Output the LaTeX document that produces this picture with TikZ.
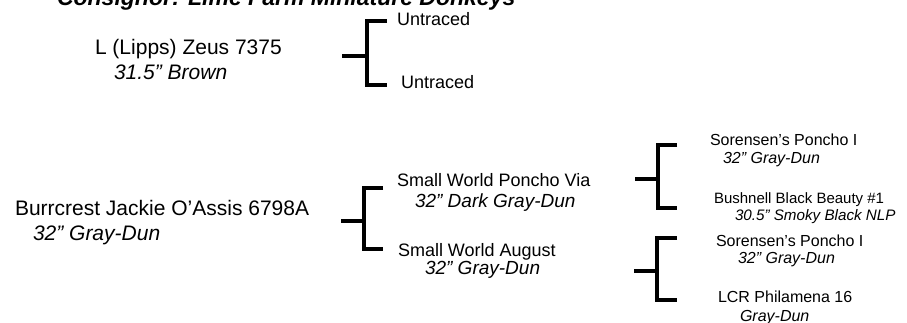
\documentclass[tikz,border=0pt]{standalone}
\usepackage{fontspec}
\setmainfont{Liberation Sans}
\begin{document}
\begin{tikzpicture}[x=1pt,y=-1pt,
  txt/.style={anchor=base west, inner sep=0pt, outer sep=0pt},
  ttl/.style={txt, font=\fontsize{23}{24}\selectfont\bfseries\itshape},
  big/.style={txt, font=\fontsize{21}{22}\selectfont},
  bigi/.style={txt, font=\fontsize{21}{22}\selectfont\itshape},
  mid/.style={txt, font=\fontsize{18}{19}\selectfont},
  midi/.style={txt, font=\fontsize{19}{20}\selectfont\itshape},
  sml/.style={txt, font=\fontsize{16}{17}\selectfont},
  smli/.style={txt, font=\fontsize{16}{17}\selectfont\itshape},
  xsml/.style={txt, font=\fontsize{15}{16}\selectfont},
  xsmli/.style={txt, font=\fontsize{15.2}{16}\selectfont\itshape},
  br/.style={line width=4pt, line cap=butt, line join=miter}]
\clip (0,0) rectangle (907,322);
\fill[white] (0,0) rectangle (907,322);

% title (cut off at the top)
\node[ttl] (title) at (57,5) {Consignor: Lime Farm Miniature Donkeys};

% sire line
\node[big]  (zeus)  at (95,54) {L (Lipps) Zeus 7375};
\node[bigi] (zeusc) at (114,79) {31.5” Brown};
\node[mid]  (u1)    at (397,25) {Untraced};
\node[mid]  (u2)    at (401,88) {Untraced};

% dam line
\node[big]  (burr)  at (15,215) {Burrcrest Jackie O’Assis 6798A};
\node[bigi] (burrc) at (33,240) {32” Gray-Dun};
\node[mid]  (swp)   at (397,186) {Small World Poncho Via};
\node[midi] (swpc)  at (415,207) {32” Dark Gray-Dun};
\node[mid]  (swa)   at (398,256.5) {Small World August};
\node[midi] (swac)  at (425,274) {32” Gray-Dun};

\node[sml]  (sp1)   at (710,145) {Sorensen’s Poncho I};
\node[smli] (sp1c)  at (723,163) {32” Gray-Dun};
\node[xsml] (bbb)   at (714,203) {Bushnell Black Beauty \#1};
\node[xsmli](bbbc)  at (735,220) {30.5” Smoky Black NLP};
\node[sml]  (sp2)   at (716,246.5) {Sorensen’s Poncho I};
\node[smli] (sp2c)  at (738,263) {32” Gray-Dun};
\node[sml]  (lcr)   at (718,302.5) {LCR Philamena 16};
\node[smli] (lcrc)  at (740,321.5) {Gray-Dun};

% bracket coordinates
\coordinate (s1) at (342,56);   \coordinate (v1t) at (367,21);  \coordinate (v1b) at (367,84.5);
\coordinate (e1t) at (387,21);  \coordinate (e1b) at (387,84.5);
\coordinate (s2) at (341,221);  \coordinate (v2t) at (364,188); \coordinate (v2b) at (364,249);
\coordinate (e2t) at (383,188); \coordinate (e2b) at (383,249);
\coordinate (s3) at (635,178.5);\coordinate (v3t) at (658,145); \coordinate (v3b) at (658,208.3);
\coordinate (e3t) at (677,145); \coordinate (e3b) at (677,208.3);
\coordinate (s4) at (634,270.5);\coordinate (v4t) at (657,237.7);\coordinate (v4b) at (657,300.3);
\coordinate (e4t) at (677,237.7);\coordinate (e4b) at (677,300.3);

% brackets
\foreach \i in {1,2,3,4}{
  \draw[br] (s\i) -- (s\i -| v\i t);
  \draw[br] (e\i t) -- (v\i t) -- (v\i b) -- (e\i b);
}
\end{tikzpicture}
\end{document}
